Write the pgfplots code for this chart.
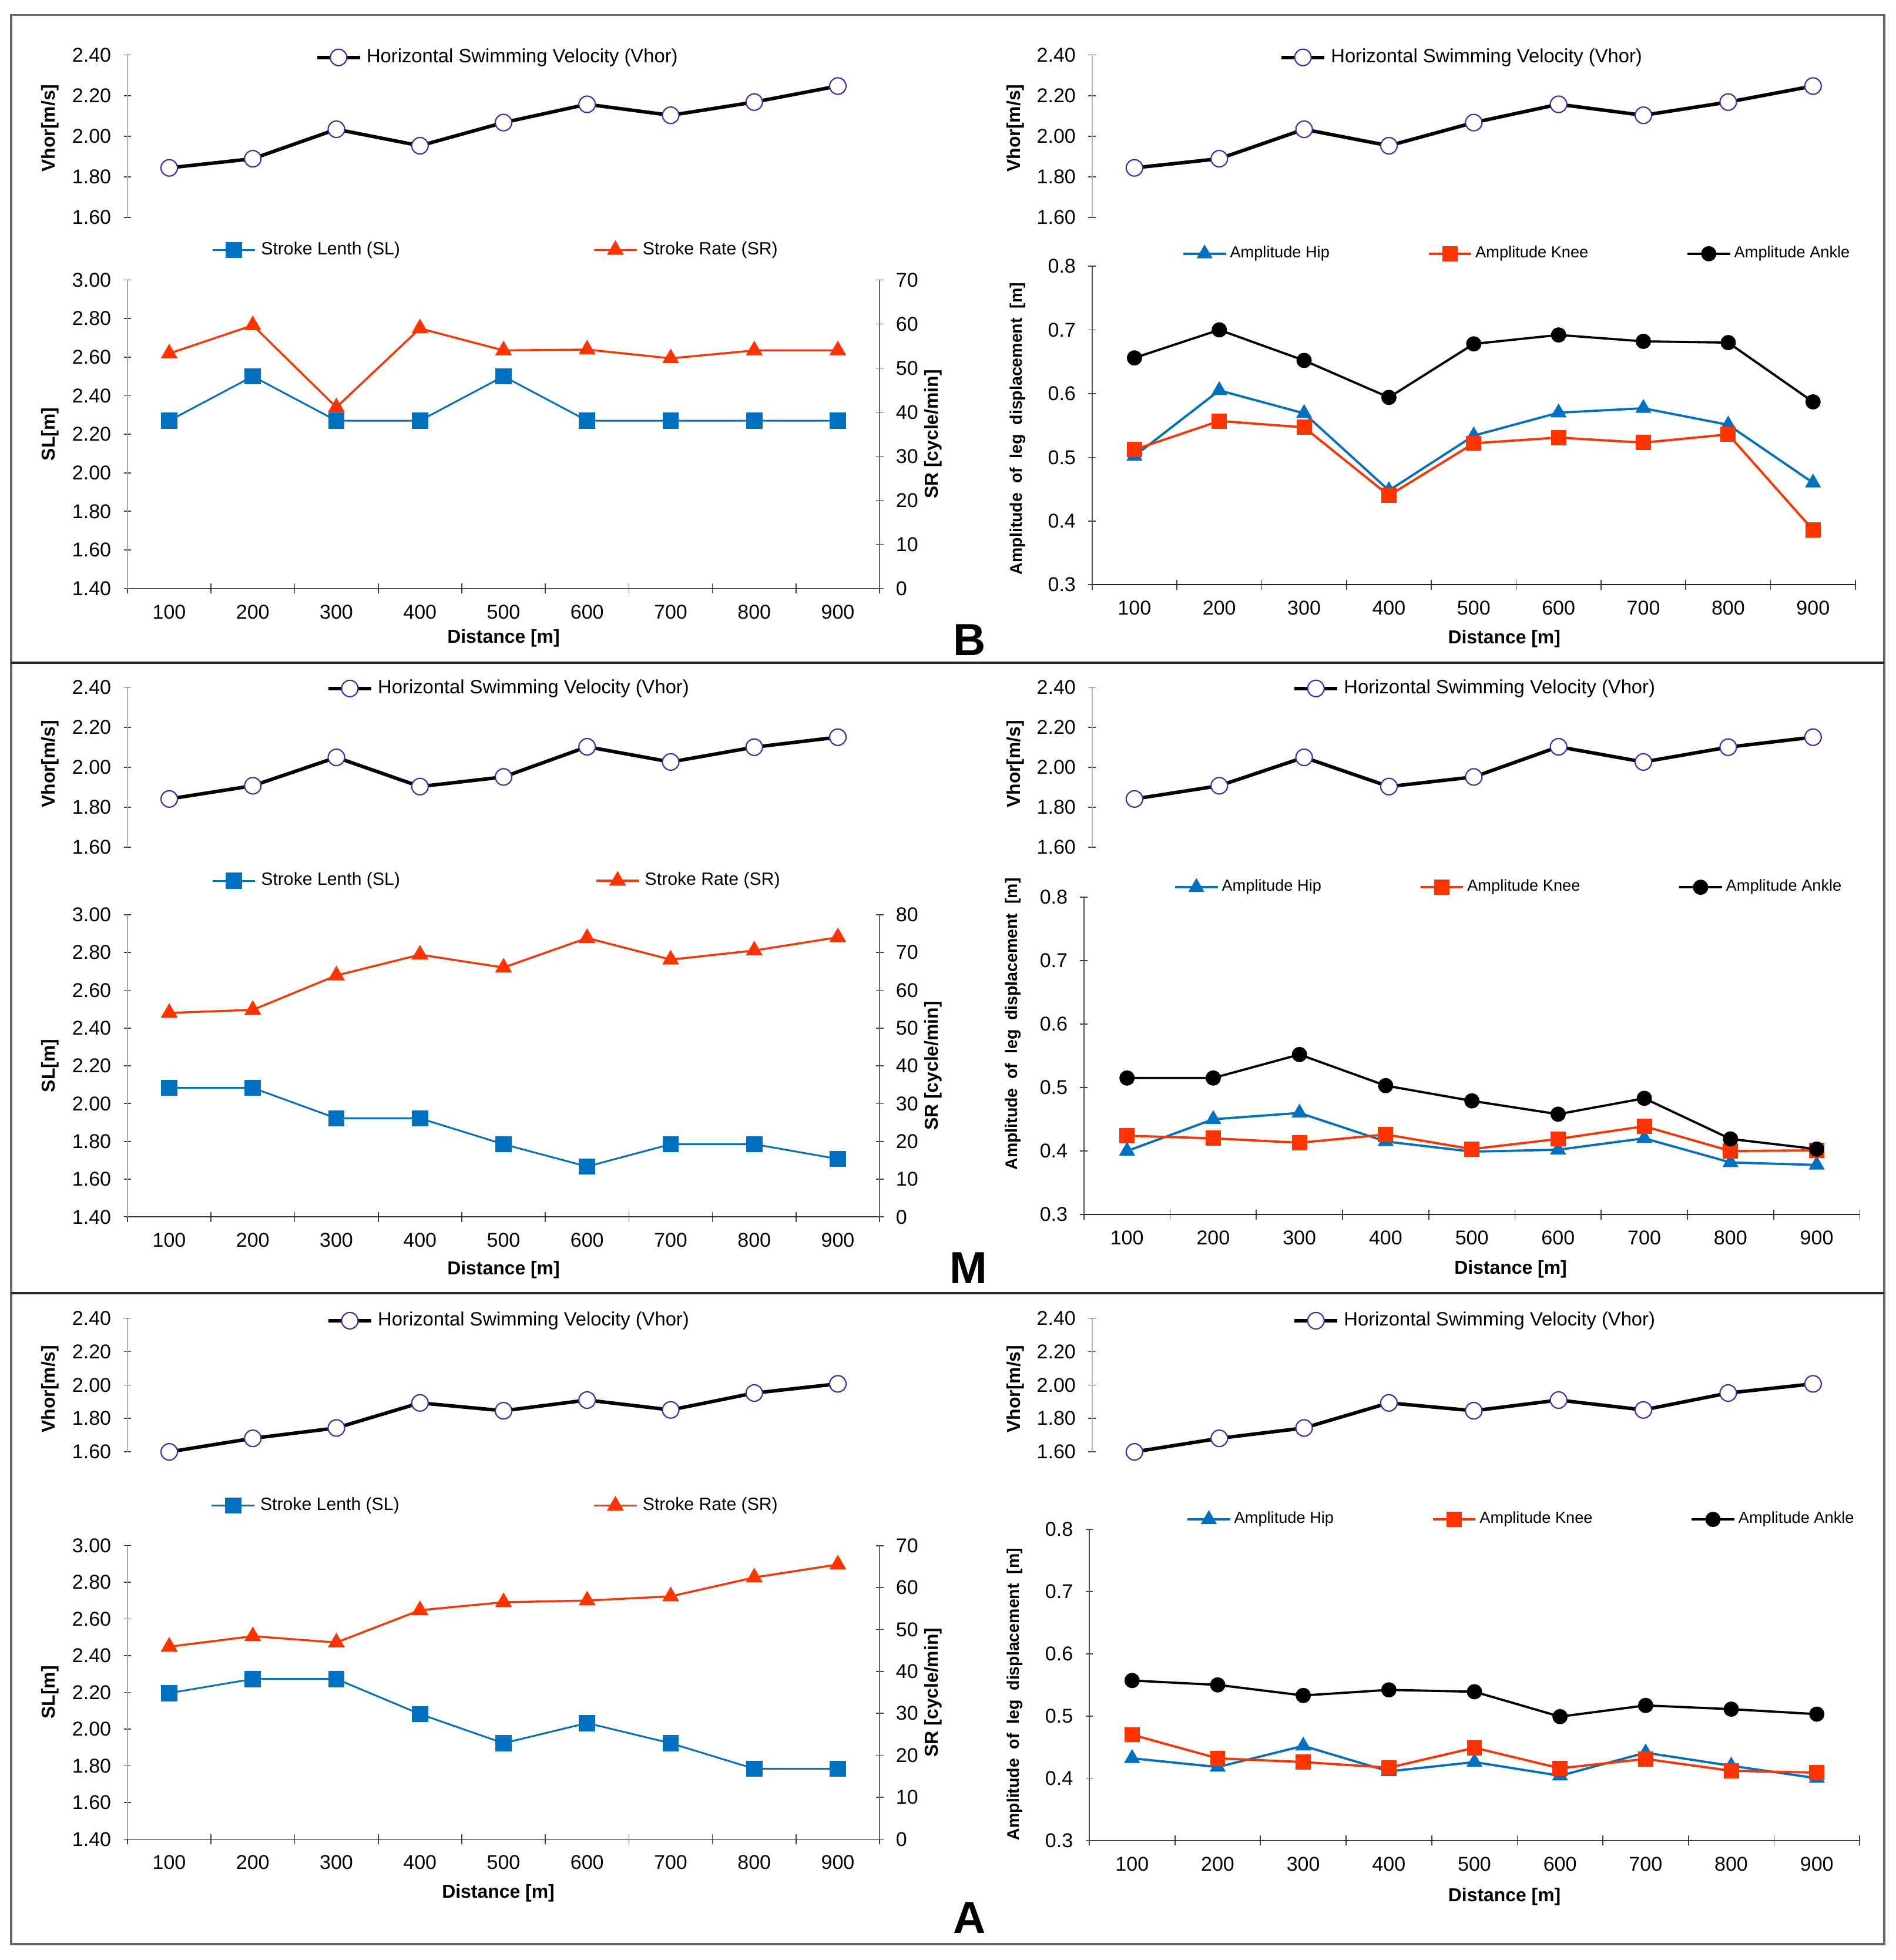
\documentclass[border=0pt]{standalone}
\usepackage{fontspec}
\setmainfont{Liberation Sans}
\usepackage{pgfplots}
\pgfplotsset{compat=1.18}
\definecolor{slblue}{RGB}{0,112,192}
\definecolor{srred}{RGB}{255,51,0}
\definecolor{vmark}{RGB}{70,40,170}
\tikzset{
  vplot/.style={black, line width=1.4pt, mark=*, mark size=3.3pt, mark options={fill=white, draw=vmark, line width=0.5pt}},
  slp/.style={slblue, line width=0.7pt, mark=square*, mark size=2.9pt},
  srp/.style={srred, line width=0.8pt, mark=triangle*, mark size=3.1pt},
  hipp/.style={slblue, line width=0.9pt, mark=triangle*, mark size=2.8pt},
  kneep/.style={srred, line width=0.9pt, mark=square*, mark size=2.6pt},
  anklep/.style={black, line width=0.9pt, mark=*, mark size=2.6pt},
}
\pgfplotsset{
  base/.style={
    scale only axis, clip=false, anchor=south west,
    /pgf/number format/assume math mode=true,
    tick label style={font=\fontsize{8}{9}\selectfont, black},
    xticklabel style={yshift=-1.5pt},
    yticklabel style={xshift=-1.5pt},
    label style={font=\bfseries\fontsize{7.5}{9}\selectfont},
    tick align=center, major tick length=3pt, minor tick length=4pt,
    tick style={black!75, line width=0.4pt},
    legend cell align=left,
    legend style={draw=none, fill=none, anchor=west, inner sep=0pt, outer sep=0pt},
    xmin=50, xmax=950,
  },
  vhor/.style={base, axis x line=none, axis y line*=left, y axis line style={black!30},
    ymin=1.6, ymax=2.4, ytick={1.6,1.8,2.0,2.2,2.4}, xtick=\empty,
    yticklabel style={/pgf/number format/.cd, fixed, fixed zerofill, precision=2},
    ylabel={Vhor[m/s]},
    legend style={font=\fontsize{7.7}{9}\selectfont}},
  sl/.style={base, axis x line*=bottom, axis y line*=left, x axis line style={black!80}, y axis line style={black!35},
    ymin=1.4, ymax=3.0, ytick={1.4,1.6,1.8,2.0,2.2,2.4,2.6,2.8,3.0},
    yticklabel style={/pgf/number format/.cd, fixed, fixed zerofill, precision=2},
    xtick={100,200,...,900}, minor xtick={50,150,...,950}, major x tick style={draw=none},
    xlabel={Distance [m]}, ylabel={SL[m]},
    legend style={font=\fontsize{7.1}{9}\selectfont}},
  sr/.style={base, axis x line=none, axis y line*=right, y axis line style={black!60}, xtick=\empty,
    ymin=0, ytick distance=10, ylabel={SR [cycle/min]}, yticklabel style={xshift=3pt},
    ylabel style={at={(axis description cs:1.071,0.5)}, anchor=center},
    legend style={font=\fontsize{7.1}{9}\selectfont}},
  amp/.style={base, axis x line*=bottom, axis y line*=left, x axis line style={black!85}, y axis line style={black!70},
    ymin=0.3, ymax=0.8, ytick={0.3,0.4,0.5,0.6,0.7,0.8},
    yticklabel style={/pgf/number format/.cd, fixed, fixed zerofill, precision=1},
    xtick={100,200,...,900}, minor xtick={50,150,...,950}, major x tick style={draw=none},
    xlabel={Distance [m]}, ylabel={Amplitude\ \ of\ \ leg\ \ displacement\ \ [m]},
    ylabel style={font=\bfseries\fontsize{6.7}{8}\selectfont},
    legend columns=3,
    legend style={font=\fontsize{6.4}{8}\selectfont, nodes={inner xsep=1.2pt}, /tikz/every even column/.append style={column sep=38pt}}},
}
\begin{document}
\begin{tikzpicture}
\useasboundingbox (0,0) rectangle (758.5pt,-784.35pt);
\fill[white] (0,0) rectangle (758.5pt,-784.35pt);
% ================= PANEL B =================
\begin{axis}[vhor, at={(51pt,-87pt)}, width=301pt, height=65pt,
  ylabel style={at={(axis description cs:-0.103,0.55)}, anchor=center},
  legend style={at={(0.250,0.985)}}]
\addplot[vplot] coordinates {(100,1.844) (200,1.889) (300,2.034) (400,1.953) (500,2.067) (600,2.157) (700,2.103) (800,2.168) (900,2.247)};
\addlegendentry{Horizontal Swimming Velocity (Vhor)}
\end{axis}
\begin{axis}[sl, at={(51pt,-235.5pt)}, width=301pt, height=123.5pt,
  ylabel style={at={(axis description cs:-0.103,0.5)}, anchor=center},
  xlabel style={at={(axis description cs:0.5,-0.162)}, anchor=center},
  legend style={at={(0.112,1.097)}}]
\addplot[slp] coordinates {(100,2.27) (200,2.50) (300,2.27) (400,2.27) (500,2.50) (600,2.27) (700,2.27) (800,2.27) (900,2.27)};
\addlegendentry{Stroke Lenth (SL)}
\end{axis}
\begin{axis}[sr, at={(51pt,-235.5pt)}, width=301pt, height=123.5pt, ymax=70,
  legend style={at={(0.619,1.097)}}]
\addplot[srp] coordinates {(100,53.3) (200,59.7) (300,41.1) (400,59.0) (500,54.0) (600,54.2) (700,52.2) (800,54.0) (900,54.0)};
\addlegendentry{Stroke Rate (SR)}
\end{axis}
\begin{axis}[vhor, at={(437pt,-87pt)}, width=305.5pt, height=65pt,
  ylabel style={at={(axis description cs:-0.1,0.55)}, anchor=center},
  legend style={at={(0.246,0.985)}}]
\addplot[vplot] coordinates {(100,1.844) (200,1.889) (300,2.034) (400,1.953) (500,2.067) (600,2.157) (700,2.103) (800,2.168) (900,2.247)};
\addlegendentry{Horizontal Swimming Velocity (Vhor)}
\end{axis}
\begin{axis}[amp, at={(437pt,-234pt)}, width=305.5pt, height=127.5pt,
  ylabel style={at={(axis description cs:-0.097,0.49)}, anchor=center},
  xlabel style={at={(axis description cs:0.54,-0.169)}, anchor=center},
  legend style={at={(0.118,1.039)}}]
\addplot[hipp] coordinates {(100,0.502) (200,0.605) (300,0.569) (400,0.448) (500,0.534) (600,0.570) (700,0.577) (800,0.551) (900,0.460)};
\addlegendentry{Amplitude Hip}
\addplot[kneep] coordinates {(100,0.512) (200,0.557) (300,0.547) (400,0.440) (500,0.522) (600,0.531) (700,0.523) (800,0.536) (900,0.386)};
\addlegendentry{Amplitude Knee}
\addplot[anklep] coordinates {(100,0.656) (200,0.700) (300,0.652) (400,0.594) (500,0.678) (600,0.692) (700,0.682) (800,0.680) (900,0.587)};
\addlegendentry{Amplitude Ankle}
\end{axis}
% ================= PANEL M =================
\begin{axis}[vhor, at={(51pt,-339pt)}, width=301pt, height=64pt,
  ylabel style={at={(axis description cs:-0.103,0.52)}, anchor=center},
  legend style={at={(0.265,0.992)}}]
\addplot[vplot] coordinates {(100,1.841) (200,1.907) (300,2.049) (400,1.903) (500,1.951) (600,2.102) (700,2.026) (800,2.100) (900,2.150)};
\addlegendentry{Horizontal Swimming Velocity (Vhor)}
\end{axis}
\begin{axis}[sl, at={(51pt,-487pt)}, width=301pt, height=121pt,
  ylabel style={at={(axis description cs:-0.103,0.5)}, anchor=center},
  xlabel style={at={(axis description cs:0.5,-0.174)}, anchor=center},
  legend style={at={(0.112,1.112)}}]
\addplot[slp] coordinates {(100,2.083) (200,2.083) (300,1.922) (400,1.922) (500,1.785) (600,1.667) (700,1.785) (800,1.785) (900,1.707)};
\addlegendentry{Stroke Lenth (SL)}
\end{axis}
\begin{axis}[sr, at={(51pt,-487pt)}, width=301pt, height=121pt, ymax=80,
  legend style={at={(0.622,1.112)}}]
\addplot[srp] coordinates {(100,54.0) (200,54.8) (300,63.9) (400,69.4) (500,66.0) (600,73.8) (700,68.1) (800,70.5) (900,74.0)};
\addlegendentry{Stroke Rate (SR)}
\end{axis}
\begin{axis}[vhor, at={(437pt,-339pt)}, width=305.5pt, height=64pt,
  ylabel style={at={(axis description cs:-0.1,0.52)}, anchor=center},
  legend style={at={(0.263,0.992)}}]
\addplot[vplot] coordinates {(100,1.841) (200,1.907) (300,2.049) (400,1.903) (500,1.951) (600,2.102) (700,2.026) (800,2.100) (900,2.150)};
\addlegendentry{Horizontal Swimming Velocity (Vhor)}
\end{axis}
\begin{axis}[amp, at={(433.75pt,-486pt)}, width=310.5pt, height=127pt,
  ylabel style={at={(axis description cs:-0.091,0.6)}, anchor=center},
  xlabel style={at={(axis description cs:0.55,-0.173)}, anchor=center},
  legend style={at={(0.116,1.031)}}]
\addplot[hipp] coordinates {(100,0.400) (200,0.450) (300,0.460) (400,0.415) (500,0.399) (600,0.402) (700,0.420) (800,0.382) (900,0.378)};
\addlegendentry{Amplitude Hip}
\addplot[kneep] coordinates {(100,0.424) (200,0.420) (300,0.413) (400,0.426) (500,0.403) (600,0.419) (700,0.439) (800,0.400) (900,0.401)};
\addlegendentry{Amplitude Knee}
\addplot[anklep] coordinates {(100,0.515) (200,0.515) (300,0.552) (400,0.503) (500,0.479) (600,0.458) (700,0.483) (800,0.419) (900,0.403)};
\addlegendentry{Amplitude Ankle}
\end{axis}
% ================= PANEL A =================
\begin{axis}[vhor, at={(51pt,-581pt)}, width=301pt, height=53.5pt,
  ylabel style={at={(axis description cs:-0.103,0.47)}, anchor=center},
  legend style={at={(0.265,0.981)}}]
\addplot[vplot] coordinates {(100,1.600) (200,1.681) (300,1.743) (400,1.893) (500,1.846) (600,1.910) (700,1.851) (800,1.952) (900,2.007)};
\addlegendentry{Horizontal Swimming Velocity (Vhor)}
\end{axis}
\begin{axis}[sl, at={(51pt,-736pt)}, width=301pt, height=117.5pt,
  ylabel style={at={(axis description cs:-0.103,0.5)}, anchor=center},
  xlabel style={at={(axis description cs:0.493,-0.183)}, anchor=center},
  legend style={at={(0.111,1.136)}}]
\addplot[slp] coordinates {(100,2.196) (200,2.273) (300,2.273) (400,2.082) (500,1.923) (600,2.033) (700,1.923) (800,1.784) (900,1.784)};
\addlegendentry{Stroke Lenth (SL)}
\end{axis}
\begin{axis}[sr, at={(51pt,-736pt)}, width=301pt, height=117.5pt, ymax=70,
  legend style={at={(0.619,1.136)}}]
\addplot[srp] coordinates {(100,45.9) (200,48.4) (300,46.9) (400,54.6) (500,56.5) (600,56.9) (700,57.9) (800,62.4) (900,65.5)};
\addlegendentry{Stroke Rate (SR)}
\end{axis}
\begin{axis}[vhor, at={(437pt,-581pt)}, width=305.5pt, height=53.5pt,
  ylabel style={at={(axis description cs:-0.1,0.47)}, anchor=center},
  legend style={at={(0.263,0.981)}}]
\addplot[vplot] coordinates {(100,1.600) (200,1.681) (300,1.743) (400,1.893) (500,1.846) (600,1.910) (700,1.851) (800,1.952) (900,2.007)};
\addlegendentry{Horizontal Swimming Velocity (Vhor)}
\end{axis}
\begin{axis}[amp, at={(435.9pt,-736.5pt)}, width=308.25pt, height=124.5pt,
  ylabel style={at={(axis description cs:-0.097,0.47)}, anchor=center},
  xlabel style={at={(axis description cs:0.539,-0.181)}, anchor=center},
  legend style={at={(0.126,1.032)}}]
\addplot[hipp] coordinates {(100,0.432) (200,0.418) (300,0.452) (400,0.411) (500,0.426) (600,0.404) (700,0.441) (800,0.420) (900,0.400)};
\addlegendentry{Amplitude Hip}
\addplot[kneep] coordinates {(100,0.470) (200,0.432) (300,0.426) (400,0.417) (500,0.449) (600,0.416) (700,0.431) (800,0.412) (900,0.409)};
\addlegendentry{Amplitude Knee}
\addplot[anklep] coordinates {(100,0.557) (200,0.550) (300,0.533) (400,0.542) (500,0.539) (600,0.499) (700,0.517) (800,0.511) (900,0.503)};
\addlegendentry{Amplitude Ankle}
\end{axis}
% ================= FRAME AND LABELS =================
\draw[black!60, line width=0.9pt] (4.5pt,-6pt) rectangle (754pt,-778pt);
\draw[black!85, line width=0.9pt] (4.5pt,-265.2pt) -- (754pt,-265.2pt);
\draw[black!85, line width=0.9pt] (4.5pt,-517.5pt) -- (754pt,-517.5pt);
\node[font=\bfseries\fontsize{18}{20}\selectfont] at (388pt,-256pt) {B};
\node[font=\bfseries\fontsize{18}{20}\selectfont] at (387.5pt,-507.5pt) {M};
\node[font=\bfseries\fontsize{18}{20}\selectfont] at (388pt,-767.5pt) {A};
\end{tikzpicture}
\end{document}
